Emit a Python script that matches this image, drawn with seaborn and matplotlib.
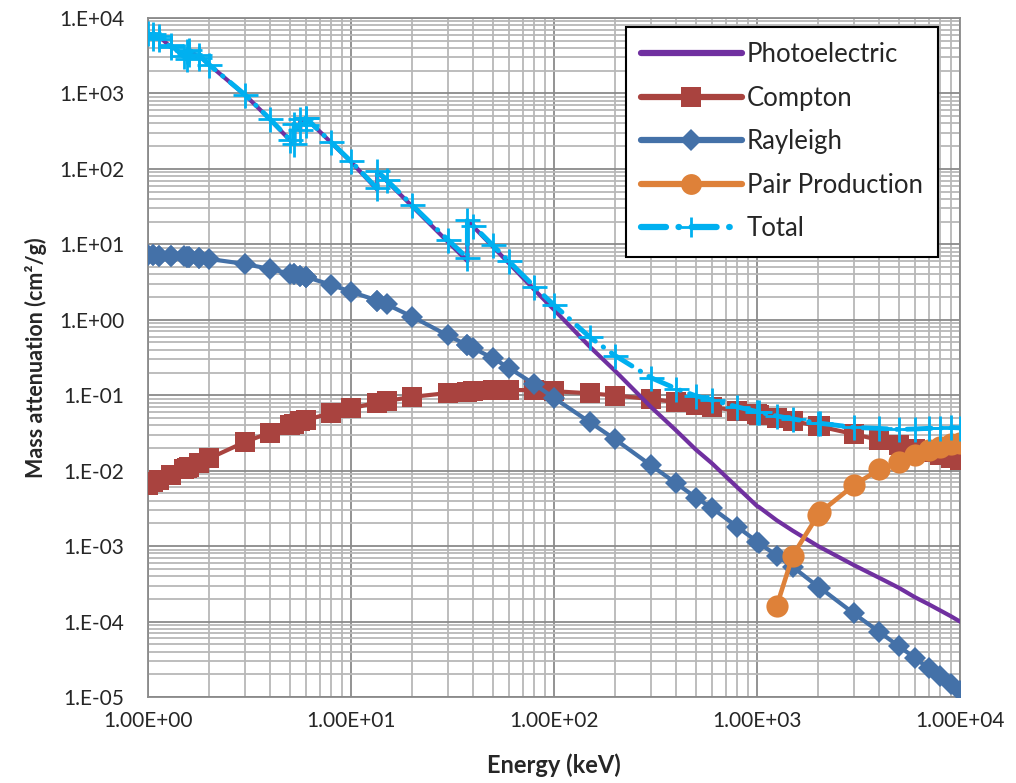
#!/usr/bin/env python3
"""
plot.py - mass attenuation coefficients by interaction type (log-log)
"""

import numpy as np
import pandas as pd
import matplotlib
matplotlib.use("Agg")
import matplotlib.pyplot as plt
import seaborn as sns
from matplotlib.ticker import LogLocator, FuncFormatter, NullFormatter
from matplotlib.lines import Line2D

# photon energy grid in keV (absorption edges appear twice)
energy = [1.0, 1.062, 1.062, 1.137, 1.137, 1.293, 1.293, 1.5, 1.55, 1.55,
          1.596, 1.596, 1.782, 1.782, 2.0, 3.0, 4.0, 5.0, 5.247, 5.247,
          5.624, 5.624, 5.989, 5.989, 6.0, 8.0, 10.0, 13.47, 13.47, 15.0,
          20.0, 30.0, 37.44, 37.44, 40.0, 50.0, 60.0, 80.0, 100.0, 150.0,
          200.0, 300.0, 400.0, 500.0, 600.0, 800.0, 1000.0, 1022.0, 1250.0, 1500.0,
          2000.0, 2044.0, 3000.0, 4000.0, 5000.0, 6000.0, 7000.0, 8000.0, 9000.0, 10000.0]

# cm2/g
photoelectric = [6300, 5500, 6200, 5300, 5700, 4100, 4400, 3100, 2850, 3600,
                 3350, 3800, 2950, 3200, 2400, 960, 450, 240, 212, 390,
                 325, 450, 382, 470, 468, 222, 124, 53, 92, 69,
                 32, 10.8, 6.0, 20.5, 17.2, 9.3, 5.6, 2.5, 1.36, 0.44,
                 0.21, 0.07, 0.034, 0.019, 0.0125, 0.006, 0.0034, 0.0033, 0.0022, 0.0016,
                 0.001, 0.00097, 0.00056, 0.00038, 0.00028, 0.00021, 0.00017, 0.00014, 0.000118, 0.0001]

compton = [0.0065, 0.0070, 0.0070, 0.0076, 0.0076, 0.0088, 0.0088, 0.0105, 0.011, 0.011,
           0.0113, 0.0113, 0.0128, 0.0128, 0.0145, 0.024, 0.032, 0.040, 0.042, 0.042,
           0.045, 0.045, 0.047, 0.047, 0.047, 0.058, 0.067, 0.080, 0.080, 0.084,
           0.095, 0.107, 0.112, 0.112, 0.113, 0.116, 0.117, 0.117, 0.113, 0.106,
           0.099, 0.089, 0.081, 0.075, 0.070, 0.062, 0.056, 0.0553, 0.050, 0.0455,
           0.039, 0.0385, 0.0305, 0.0255, 0.022, 0.0195, 0.0175, 0.016, 0.0148, 0.0137]

rayleigh = [7.3, 7.2, 7.2, 7.1, 7.1, 7.0, 7.0, 6.9, 6.85, 6.85,
            6.8, 6.8, 6.6, 6.6, 6.4, 5.5, 4.7, 4.1, 4.0, 4.0,
            3.85, 3.85, 3.7, 3.7, 3.7, 2.9, 2.35, 1.8, 1.8, 1.6,
            1.1, 0.62, 0.46, 0.46, 0.42, 0.31, 0.23, 0.14, 0.092, 0.044,
            0.026, 0.0118, 0.0068, 0.0044, 0.0032, 0.0018, 0.00115, 0.0011, 0.00075, 0.00053,
            0.00029, 0.00028, 0.000128, 7.3e-5, 4.7e-5, 3.3e-5, 2.4e-5, 1.9e-5, 1.5e-5, 1.2e-5]

# pair production only above threshold
pair_energy = [1250.0, 1500.0, 2000.0, 2044.0, 3000.0, 4000.0, 5000.0, 6000.0, 7000.0, 8000.0, 9000.0, 10000.0]
pair = [0.00016, 0.00075, 0.0026, 0.0028, 0.0064, 0.0104, 0.0129, 0.016, 0.0187, 0.0205, 0.0225, 0.023]

total = [6310, 5510, 6210, 5310, 5710, 4110, 4410, 3110, 2860, 3610,
         3360, 3810, 2960, 3210, 2410, 966, 455, 244, 216, 394,
         329, 454, 386, 474, 472, 225, 126, 55, 94, 71,
         33.2, 11.5, 6.6, 21.1, 17.7, 9.7, 5.95, 2.76, 1.57, 0.59,
         0.335, 0.171, 0.122, 0.098, 0.086, 0.070, 0.0606, 0.0597, 0.053, 0.0484,
         0.0428, 0.0425, 0.0375, 0.0363, 0.0352, 0.0357, 0.0364, 0.0367, 0.0374, 0.0369]

colors = {
    "Photoelectric": "#7030A0",
    "Compton": "#A9433F",
    "Rayleigh": "#4471A8",
    "Pair Production": "#DE8139",
    "Total": "#00B0F0",
}

sns.set_style("white")
plt.rcParams["font.family"] = ["Lato", "DejaVu Sans"]

fig = plt.figure(figsize=(10.16, 7.83), dpi=100)
ax = fig.add_axes([148 / 1016, 1 - 697 / 783, 812 / 1016, 679 / 783])
ax.set_xscale("log")
ax.set_yscale("log")

df = pd.DataFrame({"energy": energy, "photo": photoelectric, "compton": compton,
                   "rayleigh": rayleigh, "total": total})
df_pair = pd.DataFrame({"energy": pair_energy, "pair": pair})

common = dict(estimator=None, sort=False, ax=ax, legend=False)

sns.lineplot(data=df, x="energy", y="compton", color=colors["Compton"], linewidth=3,
             marker="s", markersize=15, markeredgewidth=0, zorder=3, **common)
sns.lineplot(data=df, x="energy", y="rayleigh", color=colors["Rayleigh"], linewidth=3,
             marker="D", markersize=11.5, markeredgewidth=0, zorder=4, **common)
sns.lineplot(data=df, x="energy", y="photo", color=colors["Photoelectric"], linewidth=3,
             zorder=5, **common)
sns.lineplot(data=df_pair, x="energy", y="pair", color=colors["Pair Production"], linewidth=3.3,
             marker="o", markersize=16, markeredgewidth=0, zorder=6, **common)
sns.lineplot(data=df, x="energy", y="total", color=colors["Total"], linewidth=3.5,
             dashes=False, zorder=7, **common)
tot_line = ax.lines[-1]
tot_line.set_dashes((5, 2, 0.1, 2))
tot_line.set_dash_capstyle("round")
ax.plot(energy, total, linestyle="none", marker="+", markersize=18, markeredgewidth=2,
        color=colors["Total"], zorder=8)

ax.set_xlim(1, 1e4)
ax.set_ylim(1e-5, 1e4)

# Excel-like grid
ax.xaxis.set_major_locator(LogLocator(base=10, numticks=10))
ax.yaxis.set_major_locator(LogLocator(base=10, numticks=12))
ax.xaxis.set_minor_locator(LogLocator(base=10, subs=np.arange(2, 10), numticks=10))
ax.yaxis.set_minor_locator(LogLocator(base=10, subs=np.arange(2, 10), numticks=12))
ax.xaxis.set_minor_formatter(NullFormatter())
ax.yaxis.set_minor_formatter(NullFormatter())
ax.grid(which="major", color="#8a8a8a", linewidth=1.3)
ax.grid(which="minor", color="#b8b8b8", linewidth=1.3)
ax.set_axisbelow(True)

ax.yaxis.set_major_formatter(FuncFormatter(lambda v, p: "1.E{:+03d}".format(int(round(np.log10(v))))))
ax.xaxis.set_major_formatter(FuncFormatter(lambda v, p: "{:.2E}".format(v)))
ax.tick_params(which="major", direction="out", length=5, width=1.2, color="#8a8a8a",
               labelsize=15)
ax.tick_params(axis="y", which="major", pad=12)
ax.tick_params(axis="x", which="major", pad=5)
ax.tick_params(which="minor", length=0)
for s in ax.spines.values():
    s.set_color("#8a8a8a")
    s.set_linewidth(1.3)

ax.set_xlabel("Energy (keV)", fontsize=17, fontweight="bold", labelpad=16)
ax.set_ylabel("Mass attenuation (cm²/g)", fontsize=15.5, fontweight="bold", labelpad=9)

handles = [
    Line2D([], [], color=colors["Photoelectric"], lw=4.5, solid_capstyle="round"),
    Line2D([], [], color=colors["Compton"], lw=4.5, marker="s", markersize=15, mew=0,
           solid_capstyle="round"),
    Line2D([], [], color=colors["Rayleigh"], lw=4.5, marker="D", markersize=11, mew=0,
           solid_capstyle="round"),
    Line2D([], [], color=colors["Pair Production"], lw=4.5, marker="o", markersize=15, mew=0,
           solid_capstyle="round"),
    Line2D([], [], color=colors["Total"], lw=4.5, marker="+", markersize=15, mew=2,
           dashes=(4, 2, 0.1, 2), dash_capstyle="round"),
]
labels = ["Photoelectric", "Compton", "Rayleigh", "Pair Production", "Total"]
leg = ax.legend(handles, labels, loc="upper right", bbox_to_anchor=(0.973, 0.987),
                borderaxespad=0, fontsize=18.5, handlelength=3.9, labelspacing=0.72,
                borderpad=0.6, handletextpad=0.2, fancybox=False, frameon=True,
                numpoints=1)
leg.get_frame().set_edgecolor("black")
leg.get_frame().set_linewidth(1.5)
leg.get_frame().set_facecolor("white")
leg.get_frame().set_alpha(1)

fig.savefig("out.png", dpi=100)
